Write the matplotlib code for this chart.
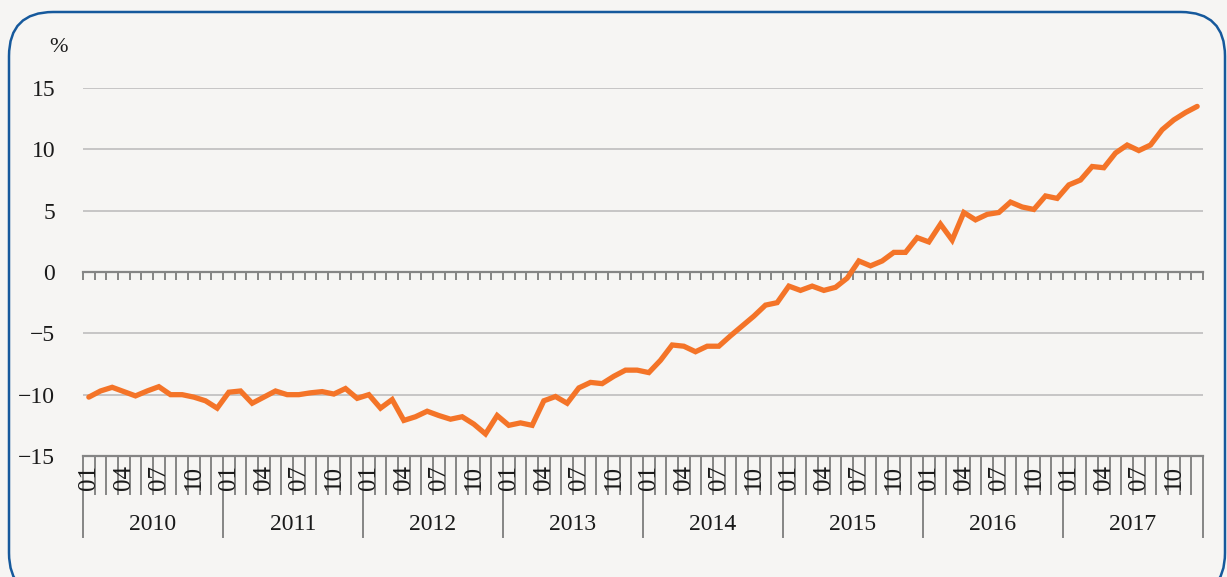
import numpy as np
import matplotlib
matplotlib.use('Agg')
import matplotlib.pyplot as plt
from matplotlib.patches import FancyBboxPatch
import matplotlib.transforms as mtransforms

years = ['2010', '2011', '2012', '2013', '2014', '2015', '2016', '2017']
month_labels = ['01', '', '', '04', '', '', '07', '', '', '10', '', '']

# monthly values, %
values = [
    -10.2, -9.7, -9.4, -9.75, -10.1, -9.7, -9.35, -10.0, -10.0, -10.2, -10.5, -11.1,
    -9.8, -9.7, -10.7, -10.2, -9.7, -10.0, -10.0, -9.85, -9.75, -9.95, -9.5, -10.3,
    -10.0, -11.1, -10.4, -12.1, -11.8, -11.35, -11.7, -12.0, -11.8, -12.4, -13.2, -11.7,
    -12.5, -12.3, -12.5, -10.5, -10.15, -10.7, -9.45, -9.0, -9.1, -8.5, -8.0, -8.0,
    -8.2, -7.2, -5.95, -6.05, -6.5, -6.05, -6.05, -5.2, -4.4, -3.6, -2.7, -2.5,
    -1.15, -1.5, -1.15, -1.5, -1.25, -0.5, 0.9, 0.5, 0.9, 1.6, 1.6, 2.8,
    2.45, 3.9, 2.6, 4.85, 4.25, 4.7, 4.85, 5.7, 5.3, 5.1, 6.2, 6.0,
    7.1, 7.5, 8.6, 8.5, 9.7, 10.35, 9.9, 10.35, 11.6, 12.4, 13.0, 13.5,
]

bg = '#f6f5f3'
orange = '#f47428'
grey = '#858585'
txt = '#1a1a1a'

plt.rcParams['font.family'] = ['Liberation Serif', 'DejaVu Serif']

fig = plt.figure(figsize=(12.27, 5.77), dpi=100, facecolor=bg)
W, H = 1227, 577

# rounded frame
frame = FancyBboxPatch((9 / W, -20 / H), 1216 / W, (H - 12 + 20) / H,
                       boxstyle='round,pad=0,rounding_size=0.036',
                       transform=fig.transFigure, facecolor='none',
                       edgecolor='#16599c', linewidth=1.8,
                       mutation_aspect=W / H)
fig.patches.append(frame)

ax = fig.add_axes([83 / W, 121 / H, 1120 / W, 368 / H])
ax.set_facecolor(bg)

n = len(values)
x = np.arange(n) + 0.5
ax.set_xlim(0, n)
ax.set_ylim(-15, 15)

for v in [15, 10, 5, -5, -10]:
    ax.axhline(v, color='#c2c2c2', lw=1.3, zorder=1)

ax.plot(x, values, color=orange, lw=3.8, solid_joinstyle='miter',
        solid_capstyle='round', zorder=3)

for s in ['top', 'right', 'left']:
    ax.spines[s].set_visible(False)
ax.spines['bottom'].set_position(('data', 0))
ax.spines['bottom'].set_color(grey)
ax.spines['bottom'].set_linewidth(1.6)
ax.set_xticks(np.arange(n + 1))
ax.tick_params(axis='x', direction='out', length=6, width=1.4, color=grey,
               labelbottom=False)
ax.set_yticks([-15, -10, -5, 0, 5, 10, 15])
ax.set_yticklabels(['\u221215', '\u221210', '\u22125', '0', '5', '10', '15'])
ax.tick_params(axis='y', length=0, pad=20, labelsize=17, labelcolor=txt)

# bottom category table
trans = mtransforms.blended_transform_factory(ax.transData, ax.transAxes)
ax.plot([0, n], [0, 0], transform=trans, color=grey, lw=1.6, clip_on=False)
for i in range(n + 1):
    low = -0.22 if i % 12 == 0 else -0.103
    ax.plot([i, i], [0, low], transform=trans, color=grey, lw=1.4,
            clip_on=False)
for i in range(n):
    lab = month_labels[i % 12]
    if lab:
        ax.text(i + 0.5, -0.025, lab, transform=trans, rotation=90,
                ha='center', va='top', fontsize=18, color=txt)
for k, yr in enumerate(years):
    ax.text(12 * k + 6, -0.185, yr, transform=trans, ha='center',
            va='center', fontsize=17, color=txt)

fig.text(58 / W, 1 - 48 / H, '%', ha='center', va='center', fontsize=16,
         color=txt)

fig.savefig('out.png', dpi=100, facecolor=bg)
